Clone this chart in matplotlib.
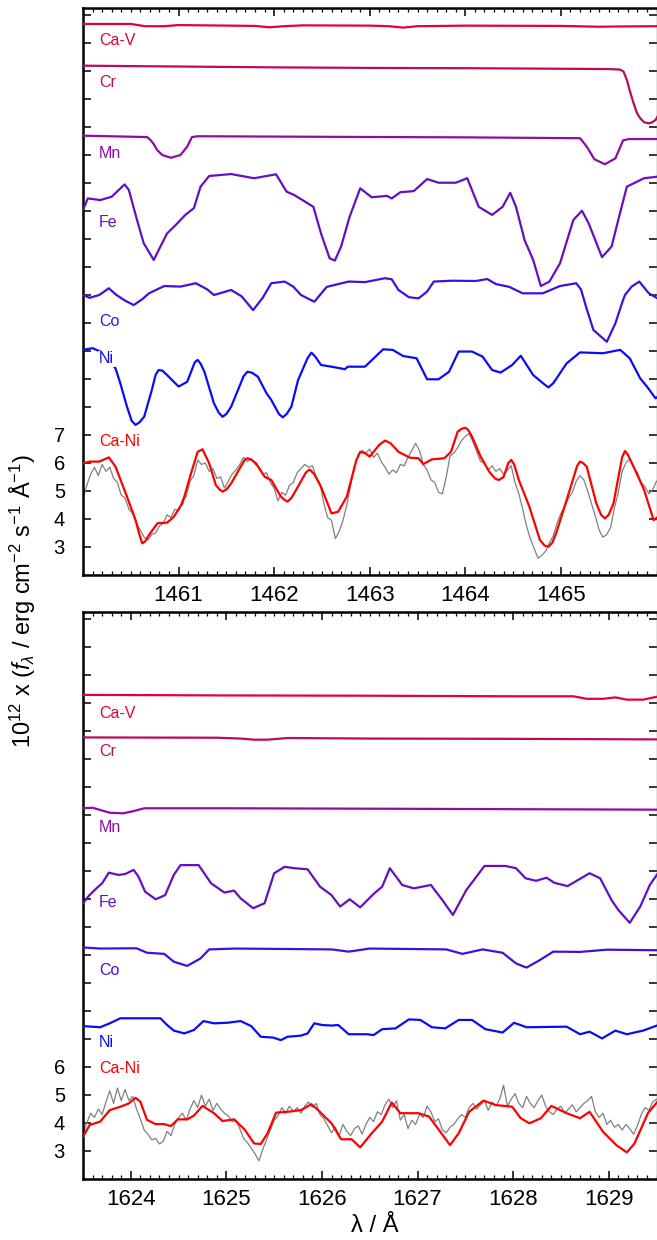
import numpy as np
import matplotlib
matplotlib.use("Agg")
import matplotlib.pyplot as plt
from matplotlib.ticker import MultipleLocator

plt.rcParams['font.family'] = ['Liberation Sans', 'DejaVu Sans']
plt.rcParams['mathtext.fontset'] = 'custom'
plt.rcParams['mathtext.rm'] = 'Liberation Sans'
plt.rcParams['mathtext.it'] = 'Liberation Sans:italic'

# ---------------- top panel (1460 - 1466 A) ----------------
top_cav_x = [1460.0, 1460.5, 1460.65, 1460.85, 1461.0, 1461.8, 1461.95, 1462.1, 1462.3, 1463.0, 1463.2,
             1463.35, 1463.5, 1464.0, 1465.0, 1465.4, 1465.6, 1466.0]
top_cav_y = [21.68, 21.68, 21.6, 21.6, 21.64, 21.61, 21.56, 21.6, 21.63, 21.62, 21.6,
             21.55, 21.6, 21.62, 21.61, 21.58, 21.59, 21.6]

top_cr_x = [1460.0, 1461.0, 1462.0, 1463.0, 1464.0, 1465.0, 1465.5, 1465.62, 1465.655, 1465.69, 1465.72,
            1465.76, 1465.795, 1465.83, 1465.87, 1465.92, 1465.955, 1465.99, 1466.04]
top_cr_y = [20.19, 20.16, 20.13, 20.11, 20.1, 20.08, 20.07, 20.05, 19.98, 19.68, 19.3,
            18.85, 18.5, 18.31, 18.17, 18.13, 18.17, 18.25, 18.55]

top_mn_x = [1460.0, 1460.67, 1460.705, 1460.74, 1460.775, 1460.83, 1460.92, 1461.02, 1461.09, 1461.14, 1461.2,
            1462.5, 1464.0, 1465.2, 1465.27, 1465.35, 1465.46, 1465.57, 1465.65, 1465.71, 1466.0]
top_mn_y = [17.69, 17.64, 17.54, 17.39, 17.18, 17.0, 16.9, 17.0, 17.3, 17.64, 17.67,
            17.65, 17.63, 17.6, 17.3, 16.85, 16.67, 16.88, 17.52, 17.57, 17.57]

top_fe_x = [1460.0, 1460.05, 1460.18, 1460.30, 1460.435, 1460.48, 1460.565, 1460.635, 1460.74, 1460.81, 1460.88, 1460.97,
            1461.07, 1461.16, 1461.23, 1461.32, 1461.55, 1461.79,
            1462.02, 1462.13, 1462.21, 1462.41, 1462.49, 1462.58, 1462.635, 1462.70, 1462.79, 1462.90,
            1463.02, 1463.18, 1463.23, 1463.32, 1463.46, 1463.60, 1463.72, 1463.90,
            1464.02, 1464.14, 1464.28, 1464.39, 1464.47, 1464.53, 1464.62, 1464.71, 1464.79, 1464.88, 1464.99,
            1465.13, 1465.22, 1465.29, 1465.43, 1465.53, 1465.60, 1465.69, 1465.87, 1466.02]
top_fe_y = [15.04, 15.45, 15.39, 15.51, 15.95, 15.75, 14.68, 13.85, 13.25, 13.73, 14.2, 14.5,
            14.86, 15.1, 15.87, 16.25, 16.32, 16.17,
            16.31, 15.69, 15.57, 15.15, 14.2, 13.31, 13.23, 13.73, 14.8, 15.81,
            15.49, 15.54, 15.45, 15.67, 15.71, 16.14, 16.01, 16.01,
            16.17, 15.15, 14.86, 15.15, 15.65, 15.15, 13.96, 13.25, 12.32, 12.48, 13.13,
            14.68, 15.01, 14.56, 13.35, 13.73, 14.68, 15.87, 16.17, 16.23]

top_co_x = [1460.0, 1460.07, 1460.17, 1460.27, 1460.35, 1460.44, 1460.53, 1460.62, 1460.69, 1460.85,
            1461.02, 1461.18, 1461.3, 1461.37, 1461.55, 1461.66, 1461.78, 1461.88, 1461.97,
            1462.11, 1462.2, 1462.28, 1462.42, 1462.55, 1462.78, 1462.95,
            1463.16, 1463.23, 1463.30, 1463.41, 1463.51, 1463.60, 1463.67, 1463.86,
            1464.11, 1464.23, 1464.32, 1464.46, 1464.60, 1464.81, 1464.99,
            1465.16, 1465.21, 1465.27, 1465.34, 1465.48, 1465.57, 1465.65, 1465.67, 1465.74, 1465.82, 1465.92, 1466.04]
top_co_y = [12.0, 11.9, 12.0, 12.24, 12.0, 11.8, 11.64, 11.85, 12.06, 12.32,
            12.3, 12.42, 12.2, 12.0, 12.18, 11.95, 11.46, 11.9, 12.42,
            12.48, 12.3, 12.0, 11.76, 12.29, 12.48, 12.46,
            12.6, 12.56, 12.18, 11.92, 11.88, 12.12, 12.48, 12.51,
            12.5, 12.57, 12.39, 12.29, 12.06, 12.06, 12.32,
            12.42, 12.2, 11.5, 10.75, 10.33, 10.99, 11.82, 12.0, 12.3, 12.48, 12.06, 11.82]

top_ni_x = [1460.0, 1460.1, 1460.2, 1460.34, 1460.39, 1460.46, 1460.51, 1460.55, 1460.59, 1460.64, 1460.72,
            1460.76, 1460.79, 1460.83, 1460.88,
            1461.0, 1461.09, 1461.17, 1461.2, 1461.23, 1461.27, 1461.37, 1461.42, 1461.46, 1461.5, 1461.55,
            1461.68, 1461.72, 1461.77, 1461.83, 1461.92, 1461.97,
            1462.05, 1462.09, 1462.13, 1462.18, 1462.25, 1462.35, 1462.39, 1462.43, 1462.49, 1462.6, 1462.74,
            1462.77, 1462.95,
            1463.14, 1463.24, 1463.35, 1463.49, 1463.6, 1463.72, 1463.83, 1463.93,
            1464.07, 1464.18, 1464.28, 1464.37, 1464.49, 1464.58, 1464.71, 1464.83, 1464.87, 1464.92,
            1465.06, 1465.2, 1465.44, 1465.62, 1465.72, 1465.83, 1465.9, 1465.99, 1466.04]
top_ni_y = [10.04, 10.1, 9.95, 9.38, 8.85, 8.01, 7.5, 7.36, 7.45, 7.65, 8.61,
            9.15, 9.32, 9.3, 9.14,
            8.73, 8.9, 9.6, 9.68, 9.55, 9.26, 8.13, 7.8, 7.65, 7.75, 8.01,
            9.1, 9.26, 9.22, 9.08, 8.49, 8.25,
            7.75, 7.63, 7.75, 8.01, 8.96, 9.75, 9.94, 9.8, 9.5, 9.44, 9.35,
            9.44, 9.44,
            10.06, 10.04, 9.82, 9.74, 8.99, 8.99, 9.26, 9.98,
            9.98, 9.8, 9.32, 9.23, 9.5, 9.83, 9.14, 8.8, 8.7, 8.85,
            9.56, 9.95, 9.92, 10.04, 9.74, 9.02, 8.73, 8.31, 8.43]

top_cani_x = [1460.0, 1460.07, 1460.17, 1460.27, 1460.34, 1460.46, 1460.55, 1460.59, 1460.62, 1460.65, 1460.69,
              1460.78, 1460.88, 1460.95,
              1461.04, 1461.13, 1461.2, 1461.25, 1461.32, 1461.39, 1461.43, 1461.46, 1461.5, 1461.55, 1461.65,
              1461.69, 1461.72, 1461.76, 1461.81, 1461.9, 1461.97,
              1462.07, 1462.11, 1462.14, 1462.18, 1462.23, 1462.33, 1462.37, 1462.42, 1462.49, 1462.6, 1462.67,
              1462.76, 1462.86, 1462.9, 1462.95,
              1463.0, 1463.1, 1463.16, 1463.22, 1463.3, 1463.42, 1463.51, 1463.56, 1463.65, 1463.78, 1463.85,
              1463.92, 1463.96,
              1464.0, 1464.03, 1464.07, 1464.16, 1464.25, 1464.31, 1464.35, 1464.4, 1464.45, 1464.48, 1464.51,
              1464.56, 1464.67, 1464.78, 1464.83, 1464.87, 1464.91, 1464.95,
              1465.06, 1465.17, 1465.2, 1465.23, 1465.27, 1465.37, 1465.42, 1465.46, 1465.5, 1465.55, 1465.64,
              1465.67, 1465.7, 1465.76, 1465.87, 1465.97, 1466.04]
top_cani_y = [5.99, 6.05, 6.05, 6.2, 5.87, 4.8, 3.96, 3.45, 3.13, 3.2, 3.43,
              3.85, 3.87, 4.08,
              4.56, 5.63, 6.4, 6.49, 5.99, 5.21, 5.05, 4.98, 5.05, 5.27, 5.87,
              6.1, 6.17, 6.12, 5.99, 5.51, 5.39,
              4.8, 4.68, 4.62, 4.75, 5.04, 5.65, 5.77, 5.6, 5.15, 4.2, 4.26,
              4.8, 6.1, 6.4, 6.35,
              6.23, 6.65, 6.8, 6.7, 6.4, 6.19, 6.17, 5.96, 6.13, 6.17, 6.4,
              7.12, 7.22,
              7.26, 7.18, 6.94, 6.23, 5.69, 5.45, 5.39, 5.5, 6.0, 6.11, 5.95,
              5.39, 4.44, 3.25, 3.05, 3.01, 3.15, 3.49,
              4.68, 5.9, 6.05, 6.0, 5.87, 4.56, 4.15, 4.02, 4.15, 4.56, 6.2,
              6.43, 6.3, 5.87, 5.04, 3.96, 4.14]

# observed spectrum, 0.04 A steps from 1460.00 to 1466.00
top_obs = [4.7, 5.2, 5.6, 5.85, 5.55, 5.95, 5.7, 5.85, 5.45, 5.3, 4.85, 4.75, 4.35, 4.2, 3.85, 3.6, 3.35, 3.25,
           3.45, 3.5, 3.75, 3.85, 4.15, 4.05, 4.35, 4.3, 4.7, 4.8, 5.35, 5.55, 6.1, 5.95, 6.0, 5.7, 5.8, 5.45,
           5.5, 5.1, 5.35, 5.6, 5.75, 5.95, 6.2, 6.05, 6.15, 5.95, 5.85, 5.6, 5.65, 5.3, 5.1, 4.65, 4.95, 4.85,
           5.2, 5.3, 5.65, 5.8, 5.95, 5.85, 5.9, 5.5, 5.25, 4.55, 4.05, 3.95, 3.3, 3.55, 3.95, 4.5, 5.2, 5.9,
           6.3, 6.45, 6.35, 6.5, 6.2, 6.35, 6.05, 5.85, 5.6, 5.75, 5.65, 5.95, 5.9, 6.2, 6.45, 6.7, 6.45, 5.95,
           5.75, 5.4, 5.3, 4.95, 4.9, 5.5, 6.25, 6.35, 6.55, 6.8, 6.95, 7.05, 6.75, 6.4, 6.05, 6.0, 5.75, 5.9,
           5.7, 5.8, 5.6, 5.75, 5.9, 5.3, 4.9, 4.35, 3.75, 3.3, 2.95, 2.6, 2.7, 2.85, 3.15, 3.4, 3.85, 4.2,
           4.45, 4.75, 4.95, 5.35, 5.55, 5.4, 5.0, 4.55, 4.1, 3.6, 3.35, 3.45, 3.7, 4.4, 4.95, 5.7, 6.0, 6.15,
           5.85, 5.65, 5.3, 5.15, 4.9, 5.05, 5.35]

# ---------------- bottom panel (1623.5 - 1629.5 A) ----------------
bot_cav_x = [1623.5, 1625.0, 1626.5, 1628.0, 1628.63, 1628.77, 1628.94, 1629.07, 1629.19, 1629.36, 1629.47, 1629.5]
bot_cav_y = [19.29, 19.27, 19.26, 19.24, 19.24, 19.15, 19.15, 19.2, 19.12, 19.12, 19.2, 19.22]

bot_cr_x = [1623.5, 1624.9, 1625.15, 1625.29, 1625.43, 1625.64, 1626.5, 1628.0, 1629.5]
bot_cr_y = [17.77, 17.76, 17.73, 17.69, 17.69, 17.75, 17.73, 17.72, 17.7]

bot_mn_x = [1623.5, 1623.6, 1623.68, 1623.78, 1623.92, 1624.03, 1624.14, 1625.0, 1627.0, 1629.5]
bot_mn_y = [15.24, 15.26, 15.18, 15.08, 15.06, 15.14, 15.24, 15.24, 15.22, 15.19]

bot_fe_x = [1623.5, 1623.56, 1623.64, 1623.70, 1623.77, 1623.87, 1623.94,
            1624.03, 1624.08, 1624.15, 1624.26, 1624.36, 1624.45, 1624.52, 1624.71, 1624.84, 1624.98,
            1625.08, 1625.15, 1625.28, 1625.40, 1625.50, 1625.61, 1625.71, 1625.85, 1625.98,
            1626.10, 1626.19, 1626.29, 1626.40, 1626.54, 1626.63, 1626.71, 1626.84, 1626.96,
            1627.14, 1627.26, 1627.37, 1627.51, 1627.59, 1627.70, 1627.92,
            1628.03, 1628.13, 1628.24, 1628.35, 1628.43, 1628.57, 1628.68, 1628.80, 1628.91,
            1629.03, 1629.10, 1629.22, 1629.33, 1629.43, 1629.54]
bot_fe_y = [11.85, 12.11, 12.38, 12.56, 12.94, 12.86, 12.89,
            13.04, 12.8, 12.26, 11.99, 12.14, 12.86, 13.21, 13.21, 12.56, 12.23,
            12.3, 12.02, 11.67, 11.85, 12.92, 13.15, 13.1, 13.06, 12.44,
            12.14, 11.73, 11.99, 11.7, 12.18, 12.44, 13.1, 12.5, 12.38,
            12.5, 11.96, 11.43, 12.32, 12.68, 13.18, 13.18,
            13.1, 12.74, 12.65, 12.76, 12.58, 12.46, 12.68, 12.92, 12.74,
            11.96, 11.61, 11.15, 11.73, 12.5, 13.04]

bot_co_x = [1623.5, 1623.68, 1624.06, 1624.17, 1624.35, 1624.45, 1624.59, 1624.73, 1624.82, 1625.1, 1626.1, 1626.28,
            1626.5, 1627.3, 1627.47, 1627.68, 1627.89, 1628.03, 1628.14, 1628.28, 1628.42, 1628.7, 1628.98, 1629.5]
bot_co_y = [10.27, 10.23, 10.24, 10.08, 10.04, 9.76, 9.61, 9.88, 10.2, 10.23, 10.2, 10.12,
            10.23, 10.2, 10.04, 10.2, 10.08, 9.7, 9.55, 9.82, 10.12, 10.11, 10.19, 10.17]

bot_ni_x = [1623.5, 1623.68, 1623.78, 1623.89,
            1624.31, 1624.38, 1624.45, 1624.56, 1624.66, 1624.76, 1624.87,
            1625.01, 1625.15, 1625.26, 1625.36, 1625.49, 1625.57, 1625.64, 1625.78, 1625.85, 1625.92,
            1626.0, 1626.1, 1626.17, 1626.28, 1626.47, 1626.54, 1626.63, 1626.77, 1626.91,
            1627.03, 1627.15, 1627.29, 1627.43, 1627.57, 1627.71, 1627.89,
            1628.01, 1628.14, 1628.56, 1628.70, 1628.80, 1628.93,
            1629.07, 1629.19, 1629.36, 1629.52]
bot_ni_y = [7.46, 7.42, 7.56, 7.74,
            7.74, 7.5, 7.3, 7.2, 7.32, 7.64, 7.56,
            7.58, 7.64, 7.46, 7.08, 7.05, 6.96, 7.08, 7.12, 7.2, 7.56,
            7.5, 7.48, 7.5, 7.17, 7.17, 7.14, 7.35, 7.38, 7.7,
            7.68, 7.42, 7.38, 7.68, 7.68, 7.35, 7.23,
            7.58, 7.42, 7.44, 7.17, 7.26, 7.02,
            7.3, 7.17, 7.3, 7.5]

bot_cani_x = [1623.5, 1623.57, 1623.68, 1623.78, 1623.89, 1623.98,
              1624.05, 1624.10, 1624.17, 1624.26, 1624.35, 1624.42, 1624.49, 1624.59, 1624.66, 1624.75, 1624.87, 1624.96,
              1625.08, 1625.19, 1625.29, 1625.36, 1625.43, 1625.52, 1625.64, 1625.78, 1625.89, 1625.96,
              1626.10, 1626.20, 1626.31, 1626.40, 1626.52, 1626.63, 1626.73, 1626.82,
              1627.01, 1627.12, 1627.22, 1627.34, 1627.43, 1627.54, 1627.69, 1627.82, 1627.99,
              1628.08, 1628.17, 1628.29, 1628.40, 1628.56, 1628.70, 1628.80, 1628.94,
              1629.08, 1629.19, 1629.27, 1629.41, 1629.52]
bot_cani_y = [3.51, 3.93, 4.05, 4.46, 4.58, 4.7,
              4.9, 4.76, 4.11, 3.96, 3.96, 3.89, 4.13, 4.13, 4.26, 4.61, 4.35, 4.07,
              4.13, 3.77, 3.27, 3.25, 3.63, 4.37, 4.4, 4.46, 4.67, 4.46,
              3.99, 3.42, 3.42, 3.13, 3.63, 4.05, 4.73, 4.35,
              4.35, 4.23, 3.77, 3.21, 3.63, 4.4, 4.8, 4.64, 4.58,
              4.17, 3.99, 4.17, 4.61, 4.35, 4.17, 4.4, 3.69,
              3.21, 2.95, 3.27, 4.35, 4.8]

# observed spectrum, 0.04 A steps from 1623.50 to 1629.50
bot_obs = [3.6, 4.0, 4.35, 4.2, 4.5, 4.3, 4.75, 5.15, 4.7, 5.25, 4.8, 5.2, 4.8, 4.95, 4.5, 4.15, 3.75, 3.6,
           3.4, 3.45, 3.25, 3.35, 3.7, 3.55, 3.95, 4.2, 4.35, 4.1, 4.5, 4.8, 4.55, 5.0, 4.6, 4.85, 4.45, 4.7,
           4.5, 4.35, 4.25, 4.05, 4.1, 3.8, 3.45, 3.3, 3.1, 2.9, 2.65, 3.05, 3.4, 3.75, 4.1, 4.25, 4.55, 4.35,
           4.6, 4.4, 4.55, 4.35, 4.6, 4.75, 4.55, 4.7, 4.3, 4.15, 3.9, 3.65, 3.85, 3.55, 3.95, 3.7, 3.55, 3.8,
           3.9, 3.6, 3.95, 4.2, 4.05, 4.4, 4.3, 4.65, 4.85, 4.55, 4.8, 4.1, 4.3, 3.8, 4.1, 3.95, 4.3, 4.2,
           4.6, 4.4, 4.05, 4.15, 3.75, 3.65, 3.85, 3.95, 4.15, 4.3, 4.2, 4.55, 4.7, 4.5, 4.65, 4.8, 4.45, 4.75,
           4.6, 4.85, 5.35, 4.6, 4.85, 5.05, 4.7, 4.55, 4.95, 4.7, 4.55, 4.8, 5.0, 4.6, 4.4, 4.3, 4.5, 4.6,
           4.35, 4.5, 4.65, 4.4, 4.55, 4.7, 4.8, 4.95, 4.4, 4.2, 4.35, 3.95, 4.1, 3.85, 3.95, 3.75, 3.95, 3.8,
           3.6, 3.9, 4.3, 4.55, 4.45, 4.75, 4.85]

names = ['Ca-V', 'Cr', 'Mn', 'Fe', 'Co', 'Ni', 'Ca-Ni']
colors = ['#e4003c', '#b80c5c', '#8c0ca4', '#6410c0', '#4010dc', '#0c0cf4', '#ff0000']
top_label_y = [21.08, 19.6, 17.04, 14.58, 11.07, 9.72, 6.78]
bot_label_y = [18.64, 17.25, 14.57, 11.86, 9.43, 6.89, 5.93]

top_models = [(top_cav_x, top_cav_y), (top_cr_x, top_cr_y), (top_mn_x, top_mn_y), (top_fe_x, top_fe_y),
              (top_co_x, top_co_y), (top_ni_x, top_ni_y), (top_cani_x, top_cani_y)]
bot_models = [(bot_cav_x, bot_cav_y), (bot_cr_x, bot_cr_y), (bot_mn_x, bot_mn_y), (bot_fe_x, bot_fe_y),
              (bot_co_x, bot_co_y), (bot_ni_x, bot_ni_y), (bot_cani_x, bot_cani_y)]

fig = plt.figure(figsize=(6.57, 12.40), dpi=100)
W, H = 657.0, 1240.0
ax1 = fig.add_axes([83 / W, 1 - 575 / H, 573.5 / W, 567 / H])
ax2 = fig.add_axes([83 / W, 1 - 1179 / H, 573.5 / W, 567 / H])


def draw_panel(ax, x0, x1, obs, models, label_y, xticks, ylabels):
    lam = np.linspace(x0, x1, len(obs))
    ax.plot(lam, obs, color='#808080', lw=0.9, zorder=2)
    for (mx, my), c in zip(models, colors):
        ax.plot(mx, my, color=c, lw=1.6, zorder=3, solid_joinstyle='round')
    for n, c, ly in zip(names, colors, label_y):
        ax.text(x0 + 0.168, ly, n, color=c, fontsize=11.5, ha='left', va='center', zorder=4,
                bbox=dict(facecolor='white', edgecolor='none', pad=0.6))
    ax.set_xlim(x0, x1)
    ax.set_ylim(2, 22.25)
    ax.set_xticks(xticks)
    ax.set_xticklabels([str(t) for t in xticks])
    ax.xaxis.set_minor_locator(MultipleLocator(0.1))
    yt = list(range(3, 23))
    ax.set_yticks(yt)
    ax.set_yticklabels([str(t) if t in ylabels else '' for t in yt])
    ax.tick_params(axis='both', which='major', direction='in', top=True, right=True,
                   length=6, width=1.1, color='black')
    ax.tick_params(axis='both', which='minor', direction='in', top=True, right=True,
                   length=3.2, width=0.9)
    ax.tick_params(axis='x', labelsize=16, pad=7)
    ax.tick_params(axis='y', labelsize=14.5, pad=13)
    for s in ['left', 'bottom', 'top']:
        ax.spines[s].set_linewidth(1.8)
    ax.spines['right'].set_linewidth(1.0)
    ax.spines['right'].set_color('#777777')


draw_panel(ax1, 1460.0, 1466.0, top_obs, top_models, top_label_y,
           [1461, 1462, 1463, 1464, 1465], [3, 4, 5, 6, 7])
draw_panel(ax2, 1623.5, 1629.5, bot_obs, bot_models, bot_label_y,
           [1624, 1625, 1626, 1627, 1628, 1629], [3, 4, 5, 6])

fig.text(23 / W, 0.515, r'$10^{12}$ x ($f_{\lambda}$ / erg cm$^{-2}$ s$^{-1}$ Å$^{-1}$)',
         rotation=90, ha='center', va='center', fontsize=17)
fig.text(375 / W, 1 - 1226 / H, 'λ / Å', ha='center', va='center', fontsize=17)

fig.savefig('out.png', dpi=100)
